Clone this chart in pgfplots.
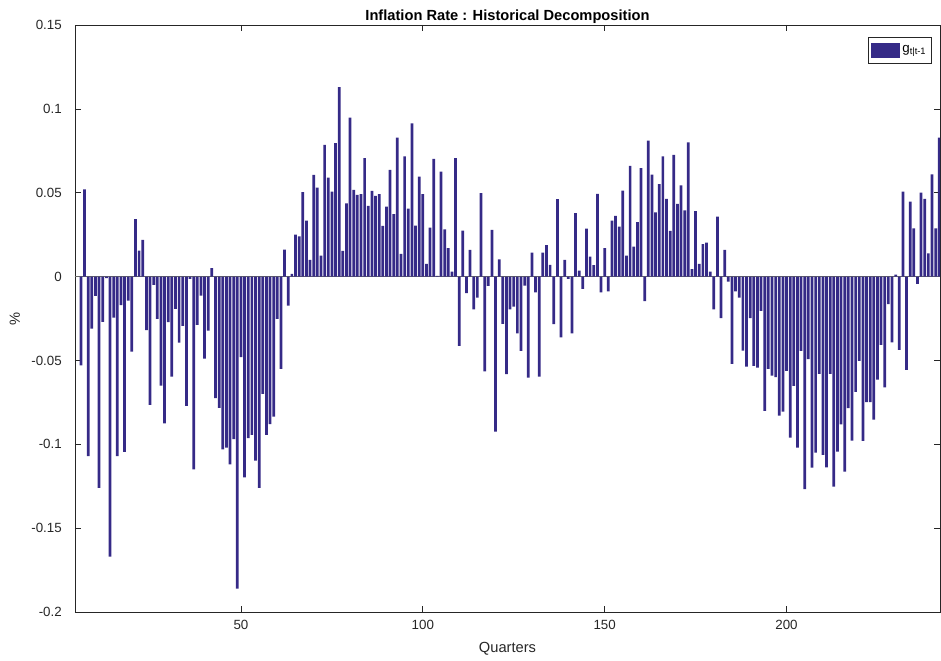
\documentclass[border=0pt]{standalone}
\usepackage{pgfplots}
\pgfplotsset{compat=1.18}
\usepackage{pgfplotstable}
\usepackage{fontspec}
\setmainfont{Liberation Sans}
\definecolor{barcol}{RGB}{53,42,135}
\definecolor{axcol}{RGB}{38,38,38}
\pgfplotstableread{
x y
6 -0.053
7 0.052
8 -0.107
9 -0.031
10 -0.0115
11 -0.126
12 -0.027
13 -0.001
14 -0.167
15 -0.0245
16 -0.107
17 -0.017
18 -0.1045
19 -0.0143
20 -0.0447
21 0.0342
22 0.0155
23 0.0219
24 -0.032
25 -0.0765
26 -0.005
27 -0.0252
28 -0.065
29 -0.0875
30 -0.0272
31 -0.0596
32 -0.0193
33 -0.0394
34 -0.0294
35 -0.0771
36 -0.0014
37 -0.115
38 -0.0288
39 -0.0113
40 -0.049
41 -0.0322
42 0.005
43 -0.0725
44 -0.0783
45 -0.103
46 -0.102
47 -0.112
48 -0.097
49 -0.186
50 -0.048
51 -0.1197
52 -0.0964
53 -0.0944
54 -0.1097
55 -0.126
56 -0.070
57 -0.0944
58 -0.088
59 -0.0835
60 -0.0252
61 -0.055
62 0.016
63 -0.0173
64 0.0016
65 0.025
66 0.024
67 0.0503
68 0.0334
69 0.0099
70 0.0606
71 0.0531
72 0.0125
73 0.0785
74 0.059
75 0.0507
76 0.0795
77 0.1129
78 0.0153
79 0.0437
80 0.0948
81 0.0517
82 0.0487
83 0.0491
84 0.0706
85 0.0421
86 0.0511
87 0.0481
88 0.0491
89 0.0302
90 0.0417
91 0.0636
92 0.0372
93 0.0829
94 0.0135
95 0.0716
96 0.0405
97 0.0914
98 0.0304
99 0.0596
100 0.0491
101 0.0076
102 0.0292
103 0.0702
104 0.0004
105 0.0626
106 0.0282
107 0.0169
108 0.003
109 0.0706
110 -0.0413
111 0.0274
112 -0.0099
113 0.0159
114 -0.0195
115 -0.0125
116 0.0497
117 -0.0566
118 -0.0056
119 0.0278
120 -0.0924
121 0.0103
122 -0.0282
123 -0.0582
124 -0.0195
125 -0.0179
126 -0.0338
127 -0.0443
128 -0.0054
129 -0.0602
130 0.0143
131 -0.0095
132 -0.0596
133 0.0143
134 0.0187
135 0.007
136 -0.0284
137 0.0461
138 -0.0362
139 0.0099
140 -0.0014
141 -0.0338
142 0.0378
143 0.0036
144 -0.0074
145 0.0286
146 0.0119
147 0.0068
148 0.0493
149 -0.0095
150 0.0169
151 -0.0089
152 0.0334
153 0.0362
154 0.0298
155 0.0513
156 0.0125
157 0.066
158 0.0179
159 0.0324
160 0.0646
161 -0.0147
162 0.0811
163 0.0608
164 0.0382
165 0.0551
166 0.0716
167 0.0463
168 0.0272
169 0.0726
170 0.0433
171 0.0543
172 0.0394
173 0.080
174 0.0044
175 0.039
176 0.0076
177 0.0193
178 0.0203
179 0.003
180 -0.0195
181 0.0358
182 -0.0248
183 0.0159
184 -0.003
185 -0.052
186 -0.0089
187 -0.0125
188 -0.0441
189 -0.0537
190 -0.0248
191 -0.0533
192 -0.0543
193 -0.0205
194 -0.0801
195 -0.0551
196 -0.059
197 -0.060
198 -0.0829
199 -0.0805
200 -0.0563
201 -0.096
202 -0.0652
203 -0.102
204 -0.0443
205 -0.1268
206 -0.0493
207 -0.1139
208 -0.105
209 -0.058
210 -0.1063
211 -0.1137
212 -0.058
213 -0.1252
214 -0.1044
215 -0.0881
216 -0.1163
217 -0.0785
218 -0.0978
219 -0.0688
220 -0.0503
221 -0.098
222 -0.0749
223 -0.0749
224 -0.0853
225 -0.0614
226 -0.0407
227 -0.066
228 -0.0165
229 -0.0393
230 0.0012
231 -0.0437
232 0.0507
233 -0.0557
234 0.0447
235 0.0288
236 -0.0044
237 0.0501
238 0.0463
239 0.0139
240 0.061
241 0.0288
242 0.0829
}\decomp
\begin{document}
\begin{tikzpicture}
\begin{axis}[
  name=ax,
  scale only axis,
  width=648.75pt, height=440.25pt,
  xmin=4.37, xmax=242.2,
  ymin=-0.2, ymax=0.15,
  axis line style={axcol, line width=0.5pt},
  every tick/.style={axcol, line width=0.5pt},
  tick align=inside,
  tick pos=both,
  major tick length=4.5pt,
  xtick={50,100,150,200},
  xticklabels={50,100,150,200},
  ytick={-0.2,-0.15,-0.1,-0.05,0,0.05,0.1,0.15},
  yticklabels={-0.2,-0.15,-0.1,-0.05,0,0.05,0.1,0.15},
  tick label style={font=\fontsize{10}{12}\selectfont, text=axcol},
  yticklabel style={xshift=-6.4pt},
  xticklabel style={yshift=-2.7pt},
  every axis title shift=0pt,
  title={Inflation Rate : Historical Decomposition},
  title style={at={(axis description cs:0.5,1)}, anchor=base, yshift=3pt, font=\bfseries\fontsize{11}{13}\selectfont, text=black},
  xlabel={Quarters},
  xlabel style={at={(axis description cs:0.5,0)}, anchor=base, yshift=-30.75pt, font=\fontsize{11}{13}\selectfont, text=axcol},
  ylabel={\%},
  ylabel style={at={(axis description cs:0,0.5)}, anchor=base, yshift=41.25pt, font=\fontsize{11}{13}\selectfont, text=axcol},
  legend style={at={(axis description cs:1,1)}, anchor=north east, xshift=-6pt, yshift=-9pt,
    draw=axcol, line width=0.5pt, fill=white, inner xsep=2pt, inner ysep=4pt,
    font=\fontsize{10}{12}\selectfont},
  legend cell align=left,
  legend image code/.code={\fill[barcol] (0pt,-5.8pt) rectangle (21.75pt,5.6pt);},
]
\addplot[forget plot, color=gray!80!black, line width=0.5pt] coordinates {(4.37,0) (242.2,0)};
\addplot[ybar, bar width=0.75, fill=barcol, draw=none] table[x=x,y=y] {\decomp};
\addlegendentry{g\textsubscript{t|t-1}}
\end{axis}
\pgfresetboundingbox
\path ([xshift=-56.25pt,yshift=-36.75pt]ax.south west) rectangle ([xshift=0.75pt,yshift=18.75pt]ax.north east);
\end{tikzpicture}
\end{document}
